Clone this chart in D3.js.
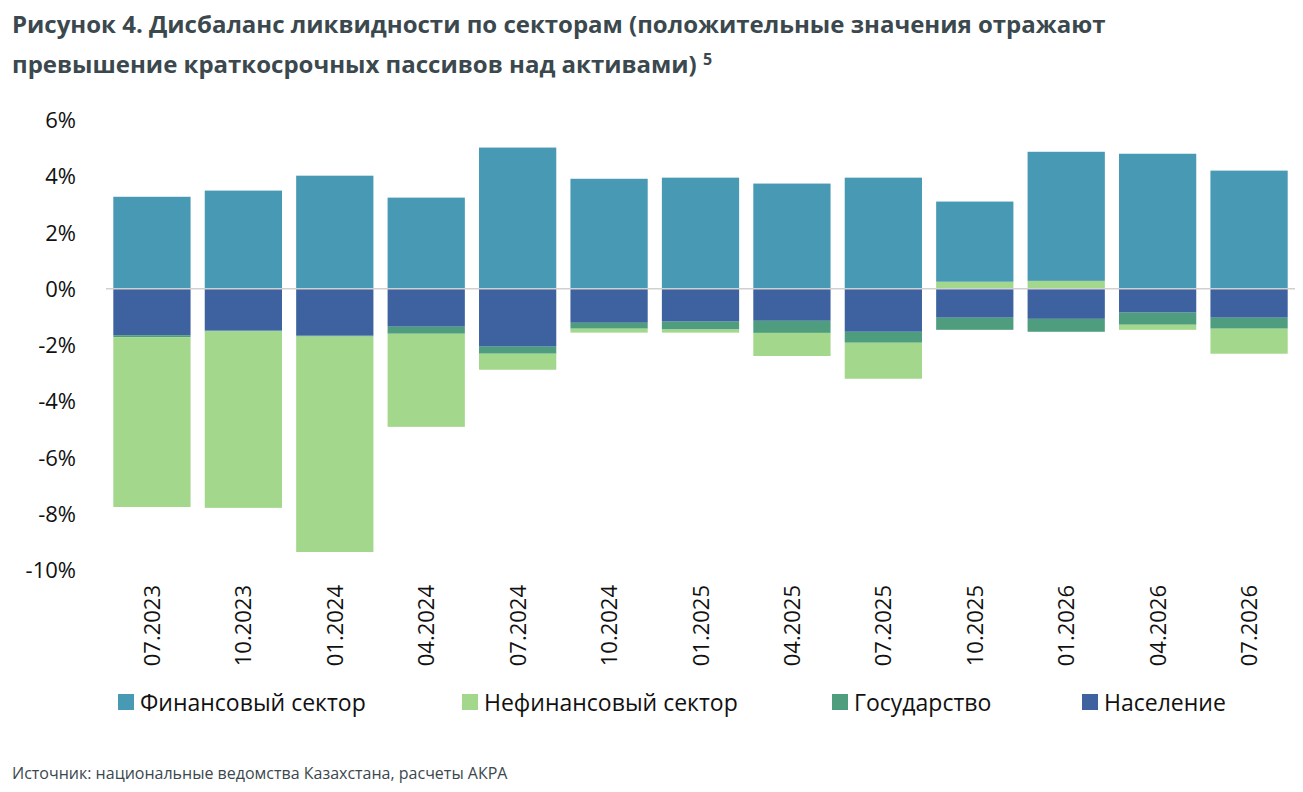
<!DOCTYPE html>
<html><head><meta charset="utf-8">
<script src="https://cdn.jsdelivr.net/npm/d3@7"></script>
<style>body{margin:0;background:#fff;font-family:"Open Sans",sans-serif}</style>
</head><body><svg id="c" width="1303" height="792"></svg>
<script>
const dates = ["07.2023","10.2023","01.2024","04.2024","07.2024","10.2024","01.2025","04.2025","07.2025","10.2025","01.2026","04.2026","07.2026"];
const financial = [3.27,3.49,4.02,3.24,5.02,3.91,3.95,3.74,3.95,2.85,4.59,4.80,4.20];
const nonfinancial = [-6.04,-6.27,-7.66,-3.31,-0.57,-0.14,-0.11,-0.82,-1.28,0.25,0.28,-0.18,-0.89];
const government = [-0.07,-0.03,-0.03,-0.25,-0.25,-0.21,-0.28,-0.43,-0.39,-0.43,-0.46,-0.43,-0.39];
const population = [-1.65,-1.49,-1.67,-1.35,-2.06,-1.21,-1.17,-1.14,-1.53,-1.03,-1.07,-0.85,-1.03];
const yTicks = [6,4,2,0,-2,-4,-6,-8,-10];

const series = [
  {key:"pop", name:"Население", color:"#3e62a0", values:population},
  {key:"gov", name:"Государство", color:"#4f9d7f", values:government},
  {key:"non", name:"Нефинансовый сектор", color:"#a3d78b", values:nonfinancial},
  {key:"fin", name:"Финансовый сектор", color:"#4799b4", values:financial}
];
const rows = dates.map((d,i)=>{const r={date:d}; series.forEach(s=>r[s.key]=s.values[i]); return r;});
const stacked = d3.stack().keys(series.map(s=>s.key)).offset(d3.stackOffsetDiverging)(rows);

const svg = d3.select("#c");
const x = d3.scaleBand().domain(dates).range([106,1295]).paddingInner(0.155).paddingOuter(0.08);
const y = d3.scaleLinear().domain([-10,6]).range([570,120]);

svg.append("text").attr("x",12).attr("y",33).attr("font-size",24).attr("font-weight",700).attr("fill","#3b484e")
  .text("Рисунок 4. Дисбаланс ликвидности по секторам (положительные значения отражают");
const t2 = svg.append("text").attr("x",12).attr("y",73).attr("font-size",24).attr("font-weight",700).attr("fill","#3b484e")
  .text("превышение краткосрочных пассивов над активами) ");
t2.append("tspan").attr("dy",-8).attr("font-size",16).text("5");

svg.append("g").selectAll("g").data(stacked).join("g")
  .attr("fill",(d,i)=>series[i].color)
  .selectAll("rect").data(d=>d).join("rect")
  .attr("x",d=>x(d.data.date)).attr("width",x.bandwidth())
  .attr("y",d=>y(Math.max(d[0],d[1]))).attr("height",d=>Math.abs(y(d[0])-y(d[1])));

svg.append("line").attr("x1",106).attr("x2",1295).attr("y1",y(0)).attr("y2",y(0)).attr("stroke","#d0d0d0").attr("stroke-width",1.5);

svg.append("g").selectAll("text").data(yTicks).join("text")
  .attr("x",76).attr("y",d=>y(d)+8).attr("text-anchor","end").attr("font-size",22).attr("fill","#111")
  .text(d=>d+"%");

svg.append("g").selectAll("text").data(dates).join("text")
  .attr("transform",d=>`translate(${x(d)+x.bandwidth()/2+8},585) rotate(-90)`)
  .attr("text-anchor","end").attr("font-size",22).attr("fill","#111").text(d=>d);

const legendOrder = [3,2,1,0];
const lx = [118,462,832,1082];
const lg = svg.append("g").selectAll("g").data(legendOrder).join("g")
  .attr("transform",(d,i)=>`translate(${lx[i]},703)`);
lg.append("rect").attr("x",0).attr("y",-9).attr("width",16).attr("height",16).attr("fill",d=>series[d].color);
lg.append("text").attr("x",22).attr("y",8).attr("font-size",23).attr("fill","#111").text(d=>series[d].name);

svg.append("text").attr("x",12).attr("y",779).attr("font-size",16).attr("fill","#3b484e")
  .text("Источник: национальные ведомства Казахстана, расчеты АКРА");
</script></body></html>
